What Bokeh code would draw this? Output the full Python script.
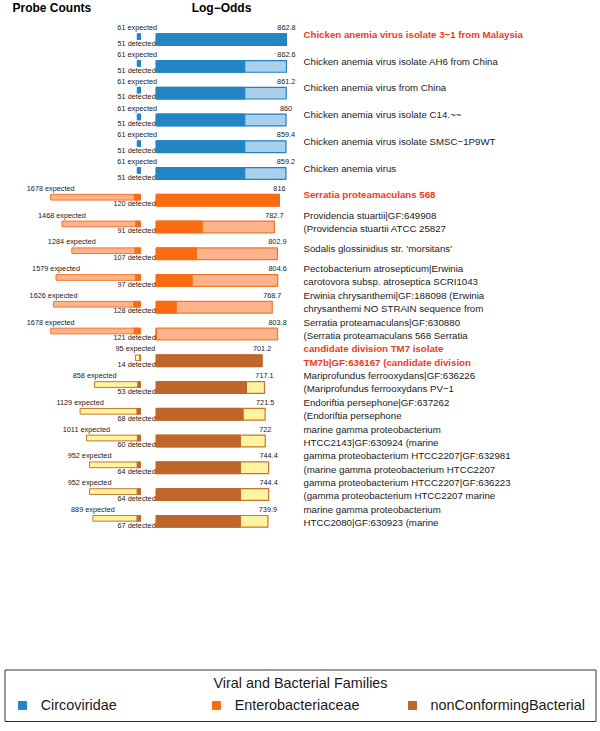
import pandas as pd
from bokeh.plotting import figure
from bokeh.models import Range1d, ColumnDataSource, Legend, LegendItem
from bokeh.transform import dodge
from bokeh.core.properties import value
from bokeh.embed import file_html
from bokeh.resources import INLINE

# ---------------- data ----------------
names = [
    "Chicken anemia virus isolate 3\u22121 from Malaysia",
    "Chicken anemia virus isolate AH6 from China",
    "Chicken anemia virus from China",
    "Chicken anemia virus isolate C14.~~",
    "Chicken anemia virus isolate SMSC\u22121P9WT",
    "Chicken anemia virus",
    "Serratia proteamaculans 568",
    "Providencia stuartii|GF:649908\n(Providencia stuartii ATCC 25827",
    "Sodalis glossinidius str. 'morsitans'",
    "Pectobacterium atrosepticum|Erwinia\ncarotovora subsp. atroseptica SCRI1043",
    "Erwinia chrysanthemi|GF:188098 (Erwinia\nchrysanthemi NO STRAIN sequence from",
    "Serratia proteamaculans|GF:630880\n(Serratia proteamaculans 568 Serratia",
    "candidate division TM7 isolate\nTM7b|GF:636167 (candidate division",
    "Mariprofundus ferrooxydans|GF:636226\n(Mariprofundus ferrooxydans PV\u22121",
    "Endoriftia persephone|GF:637262\n(Endoriftia persephone",
    "marine gamma proteobacterium\nHTCC2143|GF:630924 (marine",
    "gamma proteobacterium HTCC2207|GF:632981\n(marine gamma proteobacterium HTCC2207",
    "gamma proteobacterium HTCC2207|GF:636223\n(gamma proteobacterium HTCC2207 marine",
    "marine gamma proteobacterium\nHTCC2080|GF:630923 (marine",
]
families = [
    "Circoviridae", "Circoviridae", "Circoviridae", "Circoviridae", "Circoviridae", "Circoviridae",
    "Enterobacteriaceae", "Enterobacteriaceae", "Enterobacteriaceae", "Enterobacteriaceae",
    "Enterobacteriaceae", "Enterobacteriaceae",
    "nonConformingBacterial", "nonConformingBacterial", "nonConformingBacterial",
    "nonConformingBacterial", "nonConformingBacterial", "nonConformingBacterial",
    "nonConformingBacterial",
]
expected = [61, 61, 61, 61, 61, 61, 1678, 1468, 1284, 1579, 1626, 1678, 95, 858, 1129, 1011, 952, 952, 889]
detected = [51, 51, 51, 51, 51, 51, 120, 91, 107, 97, 128, 121, 14, 53, 68, 60, 64, 64, 67]
log_odds = [862.8, 862.6, 861.2, 860, 859.4, 859.2, 816, 782.7, 802.9, 804.6, 768.7, 803.8,
            701.2, 717.1, 721.5, 722, 744.4, 744.4, 739.9]
dark_part = [862.8, 587, 587, 587, 587, 587, 816, 305, 267, 238, 133, 0,
             701.2, 598, 576, 558, 558, 558, 558]
family_order = ["Circoviridae", "Enterobacteriaceae", "nonConformingBacterial"]

# ---------------- styles ----------------
dark_col = {"Circoviridae": "#2385C3", "Enterobacteriaceae": "#F86C12", "nonConformingBacterial": "#BF672A"}
light_col = {"Circoviridae": "#A9D0EC", "Enterobacteriaceae": "#FDB38C", "nonConformingBacterial": "#FFF4A0"}
edge_col = {"Circoviridae": "#2180BF", "Enterobacteriaceae": "#F47526", "nonConformingBacterial": "#C8742E"}
FONT_NAME = "Liberation Sans"
FONT = value(FONT_NAME)
TXT = "#1a1a1a"
RED = "#EE3A22"

# layout (page pixels)
W, H = 600, 731
PX0, PY0 = 0, 0
PROBE_ZERO, PROBE_SCALE = 140.0, 0.0535
LO_ZERO, LO_SCALE = 155.7, 0.151
ROW0, ROW_STEP = 39.15, 26.76

df = pd.DataFrame(dict(name=names, family=families, expected=expected, detected=detected,
                       log_odds=log_odds, dark=dark_part))
df["row"] = range(len(df))
df["exp_label"] = [f"{e} expected" for e in df.expected]
df["det_label"] = [f"{d} detected" for d in df.detected]
df["lo_label"] = [f"{v:g}" for v in df.log_odds]
df["best"] = ~df.family.duplicated()

p = figure(width=W, height=H,
           x_range=Range1d(PX0, PX0 + W), y_range=Range1d(PY0 + H, PY0),
           toolbar_location=None, output_backend="svg", min_border=0,
           x_axis_location=None, y_axis_location=None)
p.grid.visible = False
p.outline_line_color = None
p.background_fill_color = "white"
p.border_fill_color = "white"

p.extra_x_ranges = {
    "probe": Range1d(start=(PROBE_ZERO - PX0) / PROBE_SCALE, end=(PROBE_ZERO - PX0 - W) / PROBE_SCALE),
    "lo": Range1d(start=(PX0 - LO_ZERO) / LO_SCALE, end=(PX0 + W - LO_ZERO) / LO_SCALE),
}
p.extra_y_ranges = {
    "rows": Range1d(start=(PY0 + H - ROW0) / ROW_STEP, end=(PY0 - ROW0) / ROW_STEP),
}

BAR_H = 0.437
PROBE_H = 0.213
legend_renderers = {}
for fam in family_order:
    src = ColumnDataSource(df[df.family == fam])
    # log-odds bars
    p.hbar(y="row", height=BAR_H, left=0, right="log_odds", source=src,
           fill_color=light_col[fam], line_color=edge_col[fam], line_width=1.2,
           x_range_name="lo", y_range_name="rows")
    r = p.hbar(y="row", height=BAR_H, left=0, right="dark", source=src,
               fill_color=dark_col[fam], line_color=dark_col[fam], line_width=1,
               x_range_name="lo", y_range_name="rows")
    legend_renderers[fam] = r
    # probe count bars
    p.hbar(y=dodge("row", -0.112), height=PROBE_H, left=0, right="expected", source=src,
           fill_color=light_col[fam], line_color=edge_col[fam], line_width=1,
           x_range_name="probe", y_range_name="rows")
    p.hbar(y=dodge("row", -0.112), height=PROBE_H, left=0, right="detected", source=src,
           fill_color=dark_col[fam], line_color=dark_col[fam], line_width=0.8,
           x_range_name="probe", y_range_name="rows")

src_all = ColumnDataSource(df)
small = dict(text_font=FONT, text_font_size="7.3px", text_color=TXT, text_baseline="middle")
p.text(x="expected", y=dodge("row", -0.444), text="exp_label", text_align="center",
       source=src_all, x_range_name="probe", y_range_name="rows", **small)
p.text(x=0, y=dodge("row", 0.14), text="det_label", text_align="right", x_offset=-0.5,
       source=src_all, x_range_name="lo", y_range_name="rows", **small)
p.text(x="log_odds", y=dodge("row", -0.444), text="lo_label", text_align="center",
       source=src_all, x_range_name="lo", y_range_name="rows", **small)

src_best = ColumnDataSource(df[df.best])
src_rest = ColumnDataSource(df[~df.best])
p.text(x=303, y=dodge("row", -0.2), text="name", source=src_best, y_range_name="rows",
       text_font=FONT, text_font_size="9.7px", text_font_style="bold", text_color=RED,
       text_baseline="middle", text_align="left", text_line_height=1.2)
p.text(x=303, y=dodge("row", -0.2), text="name", source=src_rest, y_range_name="rows",
       text_font=FONT, text_font_size="9.7px", text_color=TXT,
       text_baseline="middle", text_align="left", text_line_height=1.2)

# panel headers
p.text(x=[12], y=[7.5], text=["Probe Counts"], text_font=FONT, text_font_size="12px",
       text_font_style="bold", text_color="black", text_baseline="middle", text_align="left")
p.text(x=[221], y=[7.5], text=["Log\u2212Odds"], text_font=FONT, text_font_size="12px",
       text_font_style="bold", text_color="black", text_baseline="middle", text_align="center")

# legend box
p.quad(left=[4.5], right=[595.5], top=[669.5], bottom=[721], fill_color=None,
       line_color="#333333", line_width=1)
p.text(x=[300], y=[682], text=["Viral and Bacterial Families"], text_font=FONT,
       text_font_size="14.4px", text_color=TXT, text_baseline="middle", text_align="center")

leg_x = {"Circoviridae": 16.7, "Enterobacteriaceae": 210.7, "nonConformingBacterial": 406.5}
for fam in family_order:
    leg = Legend(items=[LegendItem(label=fam, renderers=[legend_renderers[fam]])],
                 location=(leg_x[fam], 16), orientation="horizontal",
                 glyph_width=10, glyph_height=10, label_standoff=14, padding=0, margin=0,
                 spacing=0, label_height=20, border_line_color=None, background_fill_alpha=0,
                 label_text_font=FONT_NAME, label_text_font_size="14.4px", label_text_color=TXT)
    p.add_layout(leg)

open("out.html", "w").write(file_html(p, INLINE))
